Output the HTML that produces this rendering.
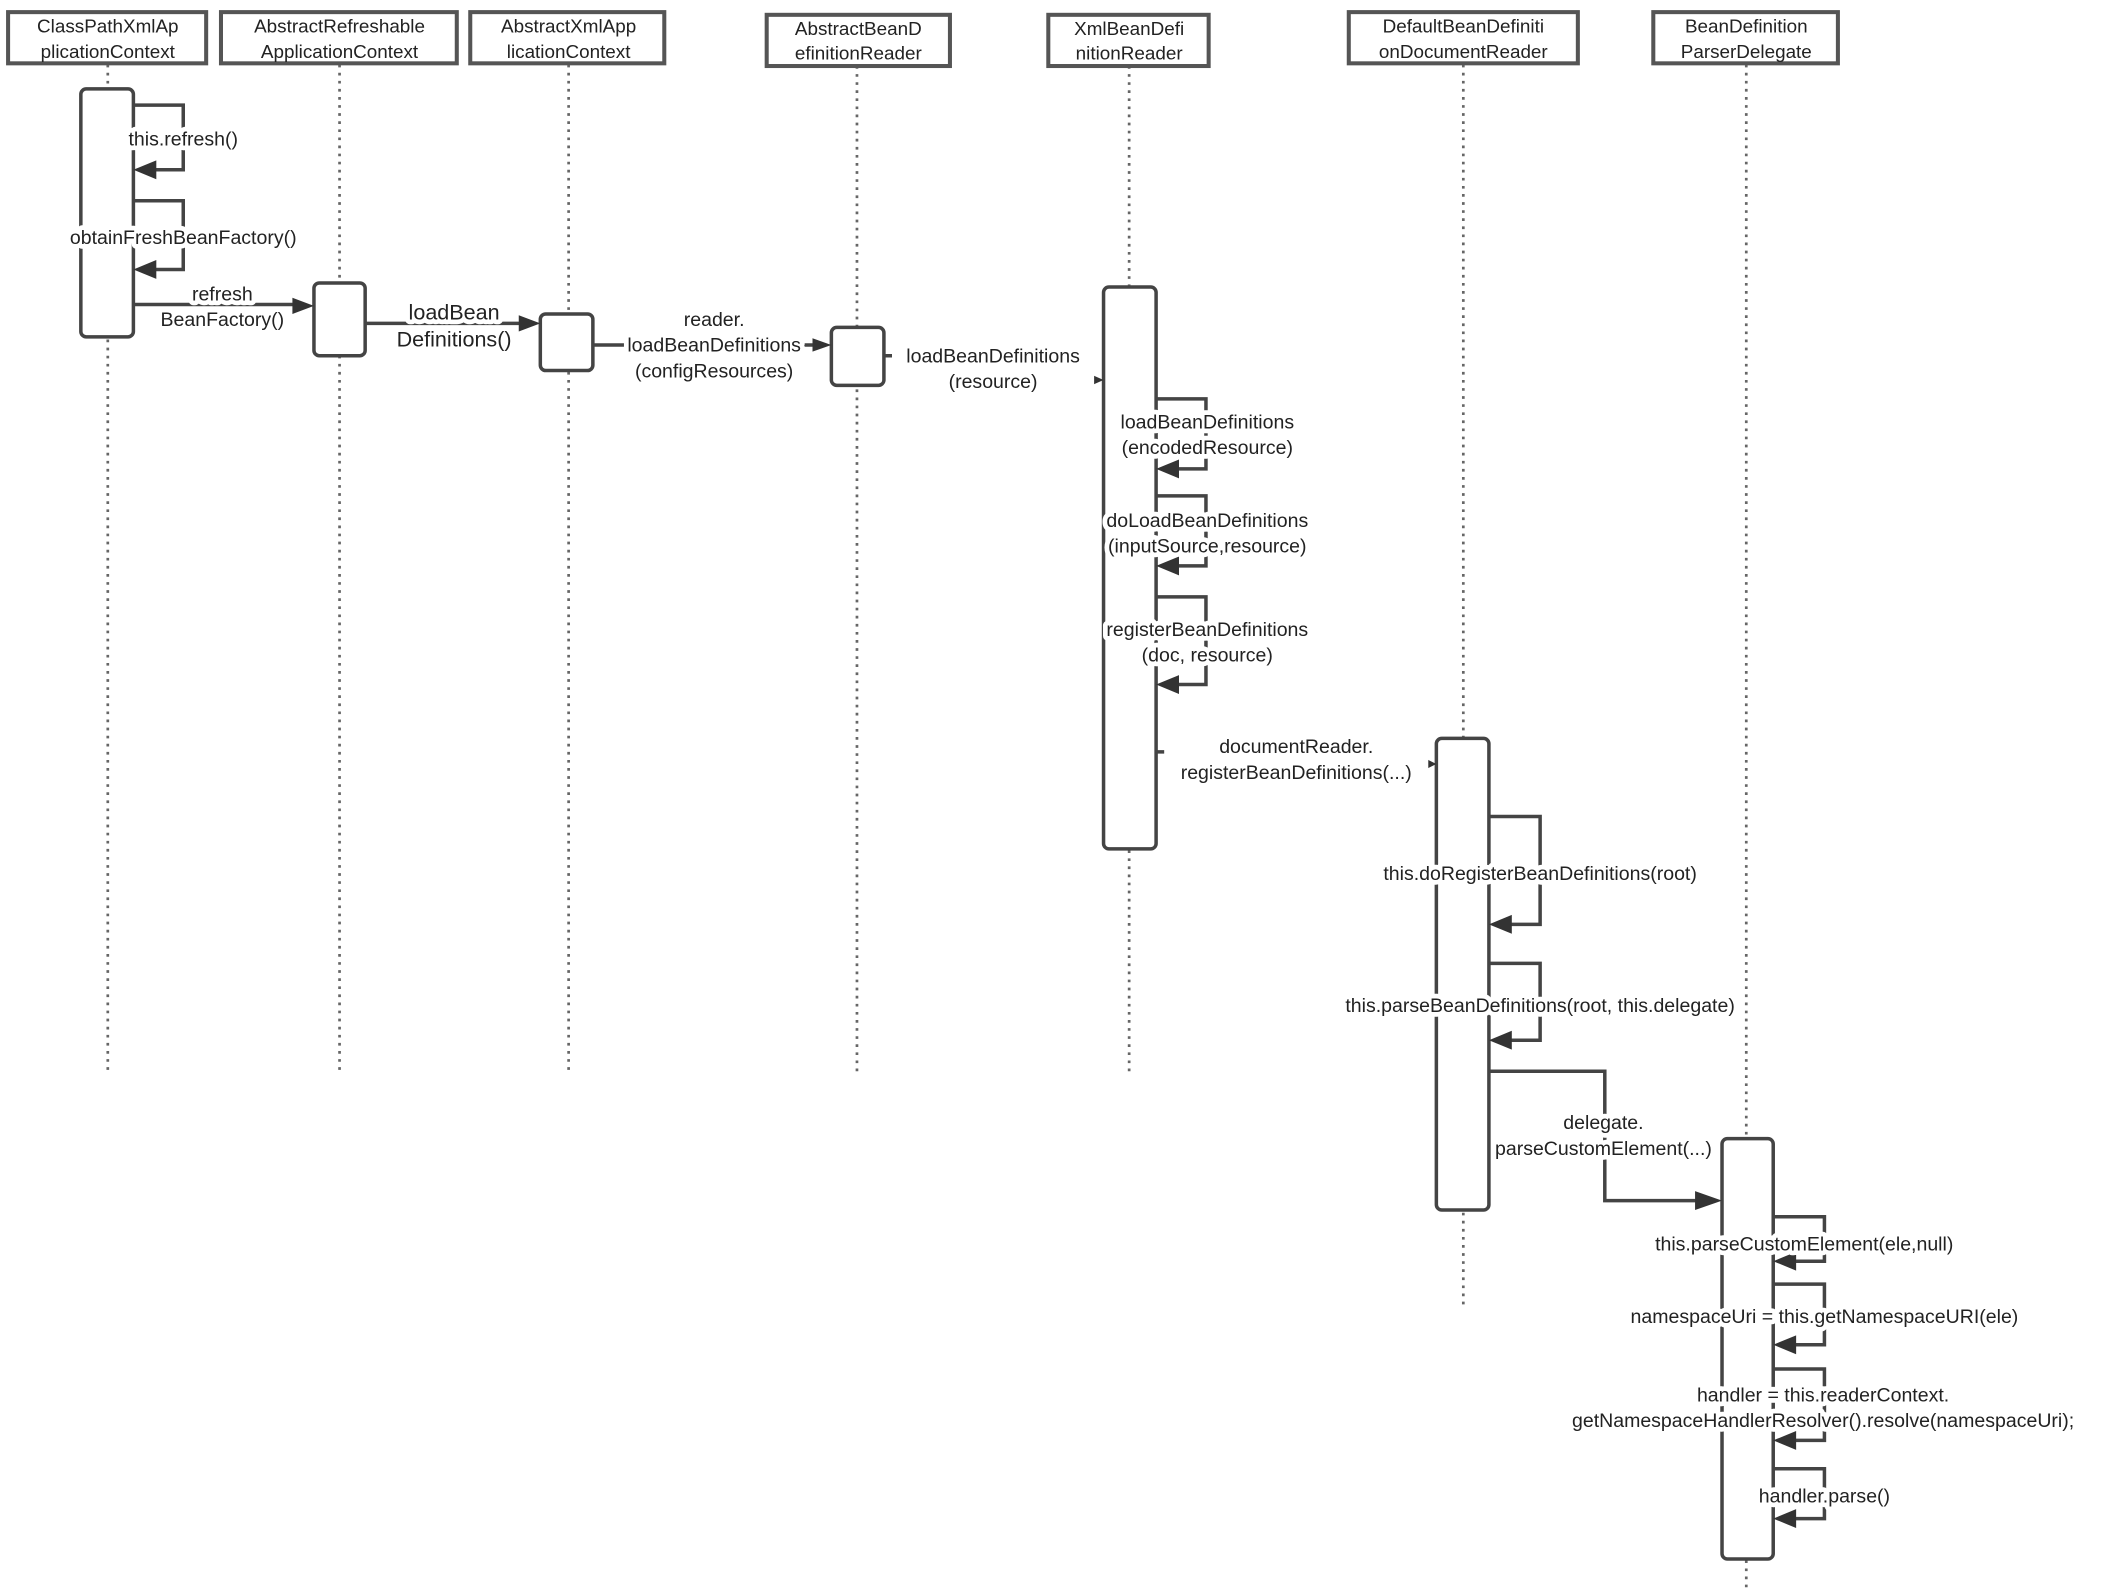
<!DOCTYPE html>
<html><head><meta charset="utf-8"><style>
html,body{margin:0;padding:0;background:#fff;}
svg{display:block;}
text{font-family:"Liberation Sans",sans-serif;font-size:14.5px;fill:#222;text-anchor:middle;}
.bg{stroke:#fff;stroke-width:7px;paint-order:stroke;stroke-linejoin:round;}
.h{font-size:14px;}
.ln{stroke:#444;stroke-width:2.6;fill:none;}
.box{stroke:#555;stroke-width:3;fill:#fff;}
.act{stroke:#444;stroke-width:2.6;fill:#fff;}
.dot{stroke:#666;stroke-width:2;stroke-dasharray:2 4;}
.ah{fill:#333;}
</style></head><body>
<svg width="2102" height="1590" viewBox="0 0 1560 1180" preserveAspectRatio="none" xmlns="http://www.w3.org/2000/svg">
<!-- lifelines -->
<line class="dot" x1="80" y1="48" x2="80" y2="795"/>
<line class="dot" x1="252" y1="48" x2="252" y2="795"/>
<line class="dot" x1="422" y1="48" x2="422" y2="795"/>
<line class="dot" x1="636" y1="49" x2="636" y2="795"/>
<line class="dot" x1="838" y1="49" x2="838" y2="795"/>
<line class="dot" x1="1086" y1="48" x2="1086" y2="968"/>
<line class="dot" x1="1296" y1="48" x2="1296" y2="1178"/>
<!-- headers -->
<rect class="box" x="6" y="9" width="147" height="38"/>
<text class="h" x="80" y="24">ClassPathXmlAp</text><text class="h" x="80" y="43">plicationContext</text>
<rect class="box" x="164" y="9" width="175" height="38"/>
<text class="h" x="252" y="24">AbstractRefreshable</text><text class="h" x="252" y="43">ApplicationContext</text>
<rect class="box" x="349" y="9" width="144" height="38"/>
<text class="h" x="422" y="24">AbstractXmlApp</text><text class="h" x="422" y="43">licationContext</text>
<rect class="box" x="569" y="11" width="136" height="38"/>
<text class="h" x="637" y="26">AbstractBeanD</text><text class="h" x="637" y="44">efinitionReader</text>
<rect class="box" x="778" y="11" width="119" height="38"/>
<text class="h" x="838" y="26">XmlBeanDefi</text><text class="h" x="838" y="44">nitionReader</text>
<rect class="box" x="1001" y="9" width="170" height="38"/>
<text class="h" x="1086" y="24">DefaultBeanDefiniti</text><text class="h" x="1086" y="43">onDocumentReader</text>
<rect class="box" x="1227" y="9" width="137" height="38"/>
<text class="h" x="1296" y="24">BeanDefinition</text><text class="h" x="1296" y="43">ParserDelegate</text>
<!-- activations -->
<rect class="act" x="60" y="66" width="39" height="184" rx="4"/>
<rect class="act" x="233" y="210" width="38" height="54" rx="4"/>
<rect class="act" x="401" y="233" width="39" height="42" rx="4"/>
<rect class="act" x="617" y="243" width="39" height="43" rx="4"/>
<rect class="act" x="819" y="213" width="39" height="417" rx="4"/>
<rect class="act" x="1066" y="548" width="39" height="350" rx="4"/>
<rect class="act" x="1278" y="845" width="38" height="312" rx="4"/>
<!-- self loops A1 -->
<polyline class="ln" points="99,78 136,78 136,126 112,126"/><polygon class="ah" points="99,126 116,119 116,133"/>
<polyline class="ln" points="99,149 136,149 136,200 112,200"/><polygon class="ah" points="99,200 116,193 116,207"/>
<text class="bg" x="136" y="108">this.refresh()</text>
<text class="bg" x="136" y="181">obtainFreshBeanFactory()</text>
<!-- calls -->
<line class="ln" x1="99" y1="226" x2="220" y2="226"/><polygon class="ah" points="233,227 217,221 217,233"/>
<text class="bg" x="165" y="223">refresh</text><text class="bg" x="165" y="242">BeanFactory()</text>
<line class="ln" x1="271" y1="240" x2="388" y2="240"/><polygon class="ah" points="401,240 385,234 385,246"/>
<text class="bg" x="337" y="237" style="font-size:16px">loadBean</text><text class="bg" x="337" y="257" style="font-size:16px">Definitions()</text>
<line class="ln" x1="440" y1="256" x2="606" y2="256"/><polygon class="ah" points="617,256 603,251 603,261"/>
<text class="bg" x="530" y="242">reader.</text><text class="bg" x="530" y="261">loadBeanDefinitions</text><text class="bg" x="530" y="280">(configResources)</text>
<polyline class="ln" points="656,264 700,264 800,282 812,282"/><polygon class="ah" points="819,282 810,278 810,286"/>
<rect x="662" y="252" width="150" height="40" fill="#fff"/>
<text x="737" y="269">loadBeanDefinitions</text><text x="737" y="288">(resource)</text>
<!-- A5 loops -->
<polyline class="ln" points="858,296 895,296 895,348 871,348"/><polygon class="ah" points="858,348 875,341 875,355"/>
<polyline class="ln" points="858,368 895,368 895,420 871,420"/><polygon class="ah" points="858,420 875,413 875,427"/>
<polyline class="ln" points="858,443 895,443 895,508 871,508"/><polygon class="ah" points="858,508 875,501 875,515"/>
<text class="bg" x="896" y="318">loadBeanDefinitions</text><text class="bg" x="896" y="337">(encodedResource)</text>
<text class="bg" x="896" y="391">doLoadBeanDefinitions</text><text class="bg" x="896" y="410">(inputSource,resource)</text>
<text class="bg" x="896" y="472">registerBeanDefinitions</text><text class="bg" x="896" y="491">(doc, resource)</text>
<polyline class="ln" points="858,558 1040,558 1058,567"/><polygon class="ah" points="1066,567 1058,563 1058,571"/>
<rect x="864" y="542" width="196" height="40" fill="#fff"/>
<text x="962" y="559">documentReader.</text><text x="962" y="578">registerBeanDefinitions(...)</text>
<!-- A6 loops -->
<polyline class="ln" points="1105,606 1143,606 1143,686 1118,686"/><polygon class="ah" points="1105,686 1122,679 1122,693"/>
<polyline class="ln" points="1105,715 1143,715 1143,772 1118,772"/><polygon class="ah" points="1105,772 1122,765 1122,779"/>
<text class="bg" x="1143" y="653">this.doRegisterBeanDefinitions(root)</text>
<text class="bg" x="1143" y="751">this.parseBeanDefinitions(root, this.delegate)</text>
<polyline class="ln" points="1105,795 1191,795 1191,891 1262,891"/><polygon class="ah" points="1278,891 1258,884 1258,898"/>
<text class="bg" x="1190" y="838">delegate.</text><text class="bg" x="1190" y="857">parseCustomElement(...)</text>
<!-- A7 loops -->
<polyline class="ln" points="1316,903 1354,903 1354,936 1329,936"/><polygon class="ah" points="1316,936 1333,929 1333,943"/>
<polyline class="ln" points="1316,953 1354,953 1354,998 1329,998"/><polygon class="ah" points="1316,998 1333,991 1333,1005"/>
<polyline class="ln" points="1316,1016 1354,1016 1354,1069 1329,1069"/><polygon class="ah" points="1316,1069 1333,1062 1333,1076"/>
<polyline class="ln" points="1316,1090 1354,1090 1354,1127 1329,1127"/><polygon class="ah" points="1316,1127 1333,1120 1333,1134"/>
<text class="bg" x="1339" y="928">this.parseCustomElement(ele,null)</text>
<text class="bg" x="1354" y="982">namespaceUri = this.getNamespaceURI(ele)</text>
<text class="bg" x="1353" y="1040">handler = this.readerContext.</text>
<text class="bg" x="1353" y="1059">getNamespaceHandlerResolver().resolve(namespaceUri);</text>
<text class="bg" x="1354" y="1115">handler.parse()</text>
</svg>
</body></html>
